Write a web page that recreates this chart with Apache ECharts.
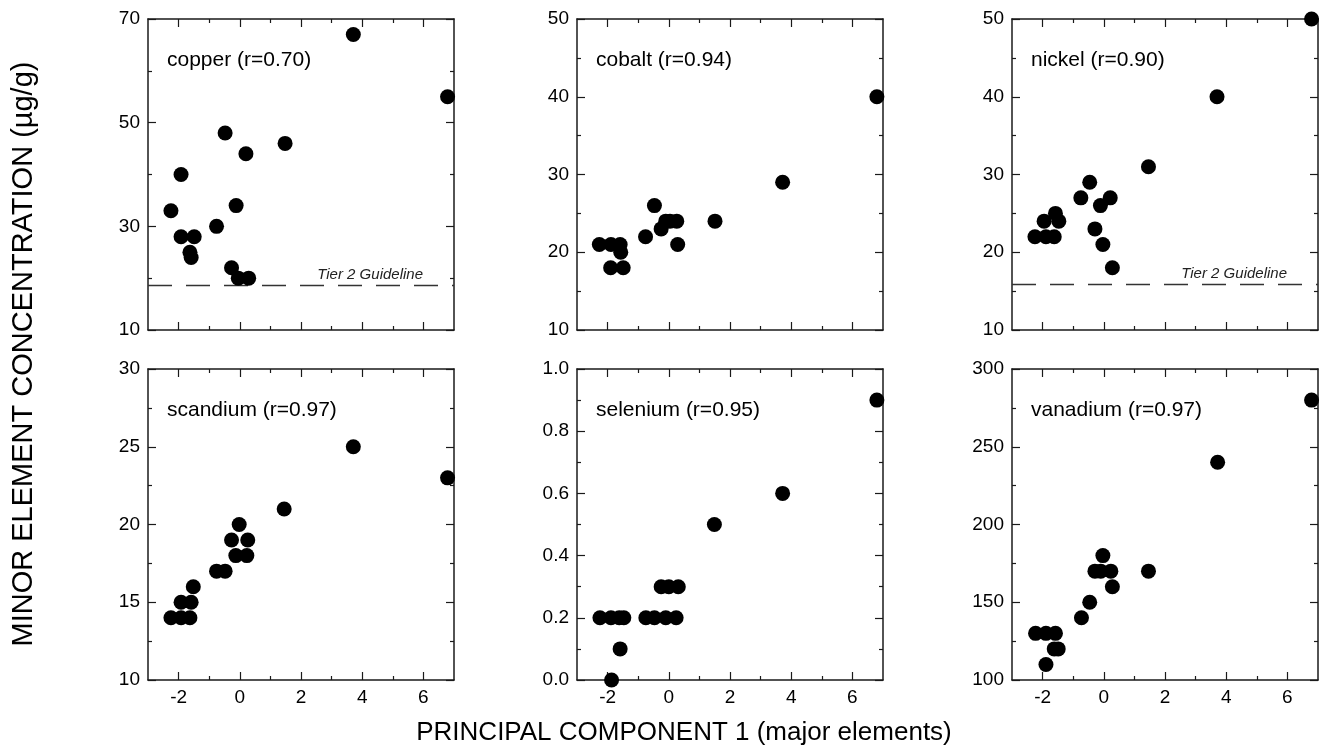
<!DOCTYPE html>
<html>
<head>
<meta charset="utf-8">
<script src="https://cdn.jsdelivr.net/npm/echarts@6/dist/echarts.min.js"></script>
<style>
  html, body { margin: 0; padding: 0; background: #fff; }
  #chart { width: 1330px; height: 752px; }
</style>
</head>
<body>
<div id="chart"></div>
<script>
// values (x = PC1 score, y = concentration)
const copperX = [3.71, 6.79, -0.48, 1.48, 0.2, -1.92, -2.25, -0.12, -0.76, -1.92, -1.49, -1.63, -1.59, -0.27, -0.05, 0.29];
const copperY = [67, 55, 48, 46, 44, 40, 33, 34, 30, 28, 28, 25, 24, 22, 20, 20];

const cobaltX = [3.72, 6.8, 1.51, -0.47, -0.76, -0.25, -0.1, 0.04, 0.26, 0.29, -2.27, -1.89, -1.59, -1.57, -1.9, -1.49];
const cobaltY = [29, 40, 24, 26, 22, 23, 24, 24, 24, 21, 21, 21, 21, 20, 18, 18];

const nickelX = [6.79, 3.7, 1.46, -0.75, -0.46, -0.11, 0.21, -0.29, -0.03, 0.28, -2.25, -1.89, -1.62, -1.95, -1.58, -1.47];
const nickelY = [50, 40, 31, 27, 29, 26, 27, 23, 21, 18, 22, 22, 22, 24, 25, 24];

const scandiumX = [3.71, 6.79, 1.45, -0.02, -0.27, 0.26, -0.13, 0.23, -0.76, -0.48, -1.52, -1.92, -1.59, -2.25, -1.92, -1.63];
const scandiumY = [25, 23, 21, 20, 19, 19, 18, 18, 17, 17, 16, 15, 15, 14, 14, 14];

const seleniumX = [6.8, 3.72, 1.49, -0.25, 0.0, 0.31, -0.75, -0.47, -0.1, 0.24, -2.25, -1.89, -1.62, -1.47, -1.59, -1.87];
const seleniumY = [0.9, 0.6, 0.5, 0.3, 0.3, 0.3, 0.2, 0.2, 0.2, 0.2, 0.2, 0.2, 0.2, 0.2, 0.1, 0.0];

const vanadiumX = [6.79, 3.72, 1.46, -0.03, -0.29, -0.1, 0.23, 0.28, -0.46, -0.73, -2.23, -1.89, -1.58, -1.62, -1.49, -1.89];
const vanadiumY = [280, 240, 170, 180, 170, 170, 170, 160, 150, 140, 130, 130, 130, 120, 120, 110];

// tick labels
const xTicks = [-2, 0, 2, 4, 6];
const xMinorTicks = [-1, 1, 3, 5];
const xRange = [-3, 7];
const copperTicks = [10, 30, 50, 70];
const cobaltTicks = [10, 20, 30, 40, 50];
const nickelTicks = [10, 20, 30, 40, 50];
const scandiumTicks = [10, 15, 20, 25, 30];
const seleniumTicks = [0, 0.2, 0.4, 0.6, 0.8, 1.0];
const vanadiumTicks = [100, 150, 200, 250, 300];

const panelNames = ['copper (r=0.70)', 'cobalt (r=0.94)', 'nickel (r=0.90)',
                    'scandium (r=0.97)', 'selenium (r=0.95)', 'vanadium (r=0.97)'];
const tier2Guideline = [18.7, null, 15.9, null, null, null];

const FONT = '"Liberation Sans", Arial, Helvetica, sans-serif';
const INK = '#1a1a1a';
const colLeft = [148, 577, 1012];
const rowTop = [19, 369];
const plotW = 306, plotH = 311;

const panels = [
  { x: copperX, y: copperY, ticks: copperTicks },
  { x: cobaltX, y: cobaltY, ticks: cobaltTicks },
  { x: nickelX, y: nickelY, ticks: nickelTicks },
  { x: scandiumX, y: scandiumY, ticks: scandiumTicks },
  { x: seleniumX, y: seleniumY, ticks: seleniumTicks, digits: 1 },
  { x: vanadiumX, y: vanadiumY, ticks: vanadiumTicks }
];

const chart = echarts.init(document.getElementById('chart'));

const grid = [], xAxis = [], yAxis = [], series = [], graphic = [];
const lineStyle = { color: INK, width: 1.5 };
const tickStyle = { color: INK, width: 1.2 };
const labelStyle = { fontFamily: FONT, fontSize: 19, color: '#000' };

panels.forEach((p, i) => {
  const row = Math.floor(i / 3), col = i % 3;
  const left = colLeft[col], top = rowTop[row];
  grid.push({ left: left, top: top, width: plotW, height: plotH, outerBoundsMode: 'none' });

  // x axes: bottom + top frame, major and minor ticks separately
  const xBase = { type: 'value', gridIndex: i, min: xRange[0], max: xRange[1], splitLine: { show: false } };
  const xIdx = xAxis.length;
  ['bottom', 'top'].forEach(pos => {
    xAxis.push(Object.assign({}, xBase, {
      position: pos,
      axisLine: { show: true, onZero: false, lineStyle: lineStyle },
      axisTick: { show: true, inside: true, length: 8, customValues: xTicks, lineStyle: tickStyle },
      axisLabel: (pos === 'bottom' && row === 1)
        ? Object.assign({ show: true, margin: 8, customValues: xTicks }, labelStyle)
        : { show: false }
    }));
    xAxis.push(Object.assign({}, xBase, {
      position: pos,
      axisLine: { show: false, onZero: false },
      axisTick: { show: true, inside: true, length: 4, customValues: xMinorTicks, lineStyle: tickStyle },
      axisLabel: { show: false }
    }));
  });

  // y axes: left with labels, right frame
  const t = p.ticks;
  const yBase = {
    type: 'value', gridIndex: i, min: t[0], max: t[t.length - 1], interval: t[1] - t[0],
    splitLine: { show: false },
    axisLine: { show: true, onZero: false, lineStyle: lineStyle },
    axisTick: { show: true, inside: true, length: 8, lineStyle: tickStyle },
    minorTick: { show: true, splitNumber: 2, length: 4, lineStyle: tickStyle }
  };
  const yIdx = yAxis.length;
  yAxis.push(Object.assign({}, yBase, {
    position: 'left',
    axisLabel: Object.assign({
      show: true, margin: 8,
      formatter: v => p.digits === 1 ? v.toFixed(1) : String(Math.round(v))
    }, labelStyle)
  }));
  yAxis.push(Object.assign({}, yBase, { position: 'right', axisLabel: { show: false } }));

  const s = {
    type: 'scatter', xAxisIndex: xIdx, yAxisIndex: yIdx, silent: true,
    symbol: 'circle', symbolSize: 15,
    itemStyle: { color: '#000', opacity: 1 },
    data: p.x.map((v, k) => [v, p.y[k]]),
    z: 3
  };
  if (tier2Guideline[i] != null) {
    s.markLine = {
      silent: true, symbol: 'none', animation: false, z: 2,
      lineStyle: { type: [24, 14], color: '#333', width: 1.3 },
      label: {
        show: true, position: 'insideEndTop', formatter: 'Tier 2 Guideline',
        fontFamily: FONT, fontStyle: 'italic', fontSize: 15, color: '#222',
        distance: [31, 3]
      },
      emphasis: { disabled: true },
      data: [{ yAxis: tier2Guideline[i] }]
    };
  }
  series.push(s);

  graphic.push({
    type: 'text', x: left + 19, y: top + 41, silent: true,
    style: { text: panelNames[i], font: '21px ' + FONT, fill: '#000', textVerticalAlign: 'middle' }
  });
});

graphic.push({
  type: 'text', x: 684, y: 733, silent: true,
  style: { text: 'PRINCIPAL COMPONENT 1 (major elements)', font: '26px ' + FONT, fill: '#000',
           textAlign: 'center', textVerticalAlign: 'middle' }
});
graphic.push({
  type: 'text', x: 24, y: 354, rotation: Math.PI / 2, silent: true,
  style: { text: 'MINOR ELEMENT CONCENTRATION (\u00b5g/g)', font: '29px ' + FONT, fill: '#000',
           textAlign: 'center', textVerticalAlign: 'middle' }
});

chart.setOption({
  animation: false,
  backgroundColor: '#fff',
  textStyle: { fontFamily: FONT },
  grid: grid,
  xAxis: xAxis,
  yAxis: yAxis,
  series: series,
  graphic: graphic
});
</script>
</body>
</html>
